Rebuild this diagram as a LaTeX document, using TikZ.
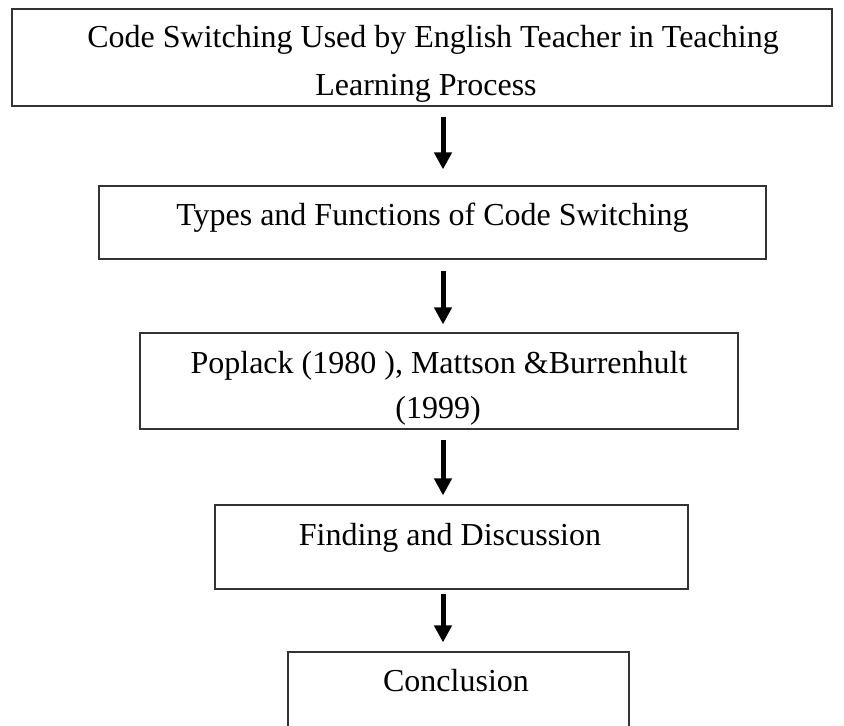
\documentclass[tikz,border=0pt]{standalone}
\usepackage{fontspec}
\setmainfont{Liberation Serif}
\usetikzlibrary{arrows.meta}
\begin{document}
\begin{tikzpicture}[x=1pt,y=-1pt,
  box/.style={draw=black!80, line width=1.1pt, rectangle, inner sep=0pt},
  lbl/.style={anchor=base, inner sep=0pt, font=\fontsize{32}{38}\selectfont},
  flow/.style={line width=5pt, -{Triangle[length=17pt,width=17pt]}}]
\useasboundingbox (0,0) rectangle (844,726);
\clip (0,0) rectangle (844,726);
% boxes
\node[box, minimum width=820pt, minimum height=97pt] (b1) at (422,57.5) {};
\node[box, minimum width=667pt, minimum height=73pt] (b2) at (432.5,222.5) {};
\node[box, minimum width=598pt, minimum height=96pt] (b3) at (439,381) {};
\node[box, minimum width=473pt, minimum height=84pt] (b4) at (451.5,547) {};
\node[box, minimum width=341pt, minimum height=108pt] (b5) at (458.5,706) {};
% texts
\node[lbl] (t1a) at (433,47) {Code Switching Used by English Teacher in Teaching};
\node[lbl] (t1b) at (426,95) {Learning Process};
\node[lbl] (t2) at (432.5,225) {Types and Functions of Code Switching};
\node[lbl] (t3a) at (439,373) {Poplack (1980 ), Mattson \&Burrenhult};
\node[lbl] (t3b) at (438,418) {(1999)};
\node[lbl] (t4) at (450,545) {Finding and Discussion};
\node[lbl] (t5) at (456,691) {Conclusion};
% arrows
\coordinate (ax) at (443,0);
\draw[flow, shorten <=10pt, shorten >=16pt] (b1.south -| ax) -- (b2.north -| ax);
\draw[flow, shorten <=11pt, shorten >=8pt] (b2.south -| ax) -- (b3.north -| ax);
\draw[flow, shorten <=10pt, shorten >=9pt] (b3.south -| ax) -- (b4.north -| ax);
\draw[flow, shorten <=4pt, shorten >=9pt] (b4.south -| ax) -- (b5.north -| ax);
\end{tikzpicture}
\end{document}
